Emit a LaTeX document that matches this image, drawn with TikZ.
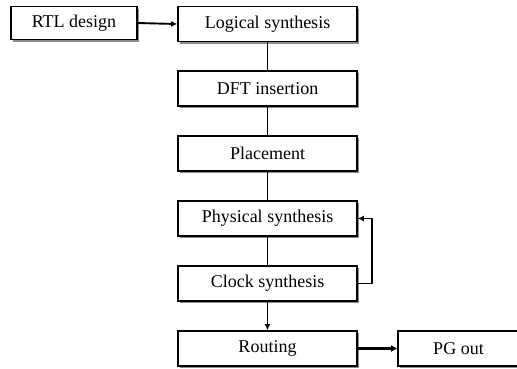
\documentclass[tikz,border=0pt]{standalone}
\usepackage{fontspec}
\setmainfont{Liberation Serif}
\usetikzlibrary{arrows.meta,shadows,positioning}
\begin{document}
\begin{tikzpicture}[x=1pt,y=-1pt,
  flowbox/.style={draw, line width=1.6pt, fill=white, minimum height=35pt,
    inner sep=0pt, font=\fontsize{18}{20}\selectfont,
    drop shadow={shadow xshift=2pt, shadow yshift=-2pt, fill=black!45, opacity=1}},
  mainbox/.style={flowbox, minimum width=179pt},
  link/.style={line width=1.9pt},
  flow/.style={line width=1.9pt, -{Latex[length=6pt,width=6pt]}},
  boldflow/.style={line width=3pt, -{Latex[length=6pt,width=7pt]}}]
  \useasboundingbox (0,0) rectangle (517,368);

  % design steps
  \node[flowbox, minimum width=126pt, minimum height=33pt] (rtl) at (74,23) {RTL design};
  \node[mainbox] (logic) at (267.5,24) {Logical synthesis};
  \node[mainbox] (dft)   at (267.5,88.5) {DFT insertion};
  \node[mainbox] (place) at (267.5,153.5) {Placement};
  \node[mainbox] (phys)  at (267.5,218.5) {Physical synthesis};
  \node[mainbox] (clock) at (267.5,283.5) {Clock synthesis};
  \node[mainbox] (route) at (267.5,348.5) {Routing};
  \node[flowbox, minimum width=121pt] (pg) at (458.5,348.5) {PG out};

  % connectors
  \draw[flow] (rtl.east) -- (logic.west);
  \draw[link] (logic) -- (dft);
  \draw[link] (dft) -- (place);
  \draw[link] (place) -- (phys);
  \draw[link] (phys) -- (clock);
  \draw[flow] (clock) -- (route);
  \draw[boldflow] (route.east) -- (pg.west);

  % feedback from clock synthesis to physical synthesis
  \coordinate (loop) at (372,0);
  \draw[flow] (clock.east) -- (clock.east -| loop) -- (phys.east -| loop) -- (phys.east);
\end{tikzpicture}
\end{document}
